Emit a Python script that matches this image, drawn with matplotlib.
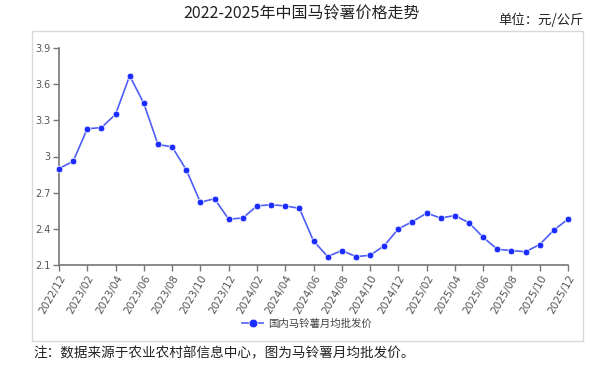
import matplotlib
matplotlib.use("Agg")
import matplotlib.pyplot as plt
from matplotlib.patches import Rectangle

plt.rcParams["font.family"] = ["Noto Sans CJK SC", "DejaVu Sans"]

# monthly average wholesale price, 2022/12 .. 2025/12 (yuan/kg)
months = ["2022/12",
          "2023/01", "2023/02", "2023/03", "2023/04", "2023/05", "2023/06",
          "2023/07", "2023/08", "2023/09", "2023/10", "2023/11", "2023/12",
          "2024/01", "2024/02", "2024/03", "2024/04", "2024/05", "2024/06",
          "2024/07", "2024/08", "2024/09", "2024/10", "2024/11", "2024/12",
          "2025/01", "2025/02", "2025/03", "2025/04", "2025/05", "2025/06",
          "2025/07", "2025/08", "2025/09", "2025/10", "2025/11", "2025/12"]
prices = [2.90,
          2.96, 3.23, 3.24, 3.35, 3.67, 3.44,
          3.10, 3.08, 2.89, 2.62, 2.65, 2.48,
          2.49, 2.59, 2.60, 2.59, 2.57, 2.30,
          2.17, 2.22, 2.17, 2.18, 2.26, 2.40,
          2.46, 2.53, 2.49, 2.51, 2.45, 2.33,
          2.23, 2.22, 2.21, 2.27, 2.39, 2.48]
y_ticks = [2.1, 2.4, 2.7, 3.0, 3.3, 3.6, 3.9]
y_labels = ["2.1", "2.4", "2.7", "3", "3.3", "3.6", "3.9"]

W, H = 613, 367
fig = plt.figure(figsize=(W / 100, H / 100), dpi=100)

# outer frame around the chart
fig.patches.append(Rectangle((32 / W, 1 - 341 / H), 551 / W, 310 / H,
                             transform=fig.transFigure, fill=False,
                             edgecolor="#d9d9d9", linewidth=1.0))

ax = fig.add_axes([59 / W, 1 - 265 / H, 509 / W, 217 / H])
x = list(range(len(months)))
line, = ax.plot(x, prices, color="#4d5ef5", linewidth=1.2, marker="o",
                markersize=4.8, markerfacecolor="#1a2cff",
                markeredgecolor="white", markeredgewidth=0.5,
                clip_on=False, zorder=3)

ax.set_xlim(0, len(months) - 1)
ax.set_ylim(2.1, 3.9)
ax.set_yticks(y_ticks)
ax.set_yticklabels(y_labels, family="DejaVu Sans", fontsize=7)
ax.set_xticks(x[::2])
ax.set_xticklabels(months[::2], rotation=60, ha="right",
                   rotation_mode="anchor", family="DejaVu Sans",
                   fontsize=7.5)

for s in ["top", "right"]:
    ax.spines[s].set_visible(False)
for s in ["left", "bottom"]:
    ax.spines[s].set_color("#777777")
    ax.spines[s].set_linewidth(1.2)
ax.tick_params(axis="both", direction="out", length=4, width=1,
               color="#777777", labelcolor="#555555", pad=2)

fig.text(302 / W, 1 - 14 / H, "2022-2025年中国马铃薯价格走势",
         ha="center", va="center", fontsize=11.5, color="#222222")
fig.text(584 / W, 1 - 20 / H, "单位：元/公斤", ha="right", va="center",
         fontsize=9.6, color="#222222")
fig.text(33 / W, 1 - 353 / H,
         "注：数据来源于农业农村部信息中心，图为马铃薯月均批发价。",
         ha="left", va="center", fontsize=9.8, color="#222222")

fig.legend([line], ["国内马铃薯月均批发价"], loc="center",
           bbox_to_anchor=(307 / W, 1 - 324 / H), frameon=False,
           fontsize=7.5, handlelength=2.0, handletextpad=0.5,
           markerscale=1.3, labelcolor="#444444")

fig.savefig("out.png", dpi=100)
